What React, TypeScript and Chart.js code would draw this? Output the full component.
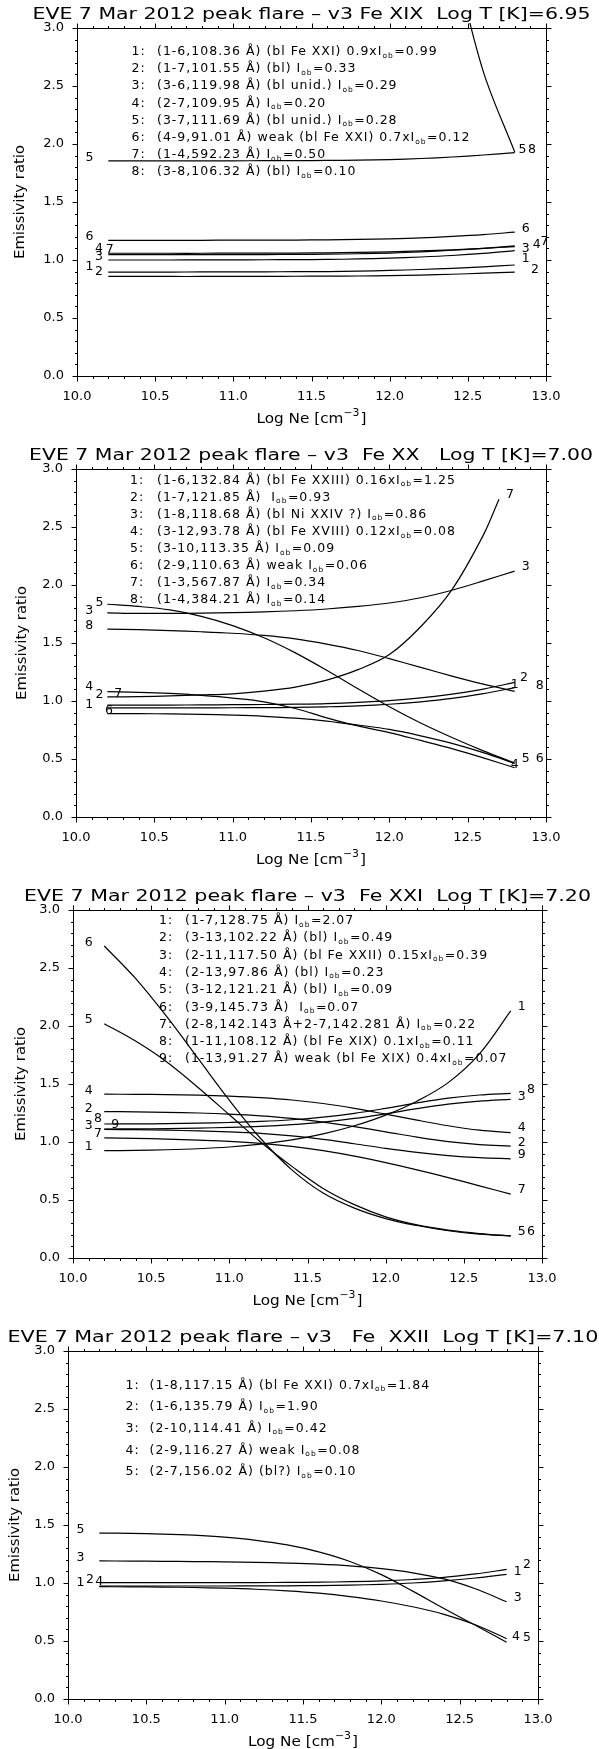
import React, { useEffect, useRef } from 'react';
import { Chart, registerables } from 'chart.js';

Chart.register(...registerables);

// ---------- shared axes ----------
const NE = [10.2, 10.4, 10.6, 10.8, 11.0, 11.2, 11.4, 11.6, 11.8, 12.0, 12.2, 12.4, 12.6, 12.8];
const NE_P2_S7 = [10.2, 10.4, 10.6, 10.8, 11.0, 11.2, 11.4, 11.6, 11.8, 12.0, 12.2, 12.4, 12.6, 12.7];
const X_TICKS = [10.0, 10.5, 11.0, 11.5, 12.0, 12.5, 13.0];
const Y_TICKS = [0.0, 0.5, 1.0, 1.5, 2.0, 2.5, 3.0];
const X_TITLE = 'Log Ne [cm';
const X_TITLE_SUP = '−3';
const Y_TITLE = 'Emissivity ratio';

// ---------- panel 1 : Fe XIX ----------
const P1_TITLE = 'EVE 7 Mar 2012 peak flare – v3 Fe XIX  Log T [K]=6.95';
const P1_S1 = [0.896, 0.896, 0.896, 0.897, 0.897, 0.898, 0.899, 0.900, 0.904, 0.910, 0.918, 0.928, 0.941, 0.957];
const P1_S2 = [0.858, 0.858, 0.858, 0.858, 0.859, 0.859, 0.860, 0.861, 0.862, 0.865, 0.870, 0.877, 0.886, 0.896];
const P1_S3 = [1.000, 1.000, 1.000, 1.001, 1.001, 1.002, 1.003, 1.005, 1.009, 1.016, 1.026, 1.039, 1.057, 1.080];
const P1_S4 = [1.058, 1.058, 1.058, 1.058, 1.059, 1.059, 1.060, 1.062, 1.065, 1.070, 1.078, 1.088, 1.101, 1.115];
const P1_S5 = [1.855, 1.855, 1.855, 1.855, 1.855, 1.856, 1.857, 1.858, 1.861, 1.866, 1.875, 1.888, 1.905, 1.925];
const P1_S6 = [1.170, 1.170, 1.170, 1.170, 1.171, 1.171, 1.172, 1.174, 1.177, 1.182, 1.190, 1.203, 1.219, 1.240];
const P1_S7 = [1.046, 1.046, 1.046, 1.046, 1.047, 1.047, 1.048, 1.050, 1.054, 1.060, 1.070, 1.084, 1.101, 1.122];
const P1_S8 = [5.60, 5.60, 5.59, 5.58, 5.56, 5.52, 5.45, 5.33, 5.14, 4.84, 4.37, 3.62, 2.62, 1.93];
const P1_LEGEND = [
  '(1-6,108.36 Å) (bl Fe XXI) 0.9xI_ob=0.99',
  '(1-7,101.55 Å) (bl) I_ob=0.33',
  '(3-6,119.98 Å) (bl unid.) I_ob=0.29',
  '(2-7,109.95 Å) I_ob=0.20',
  '(3-7,111.69 Å) (bl unid.) I_ob=0.28',
  '(4-9,91.01 Å) weak (bl Fe XXI) 0.7xI_ob=0.12',
  '(1-4,592.23 Å) I_ob=0.50',
  '(3-8,106.32 Å) (bl) I_ob=0.10',
];
const P1_LINE_LABELS: [string, number, number][] = [
  ['5', 10.08, 1.88], ['6', 10.08, 1.20], ['4', 10.14, 1.10], ['7', 10.21, 1.09],
  ['3', 10.14, 1.03], ['1', 10.08, 0.94], ['2', 10.14, 0.90],
  ['5', 12.85, 1.95], ['8', 12.91, 1.95], ['6', 12.87, 1.27], ['3', 12.87, 1.10],
  ['4', 12.94, 1.13], ['7', 12.99, 1.16], ['1', 12.87, 1.01], ['2', 12.93, 0.92],
];

// ---------- panel 2 : Fe XX ----------
const P2_TITLE = 'EVE 7 Mar 2012 peak flare – v3  Fe XX   Log T [K]=7.00';
const P2_S1 = [0.965, 0.965, 0.965, 0.966, 0.968, 0.970, 0.973, 0.978, 0.988, 1.003, 1.027, 1.060, 1.103, 1.160];
const P2_S2 = [0.940, 0.940, 0.940, 0.941, 0.942, 0.943, 0.945, 0.950, 0.958, 0.972, 0.993, 1.022, 1.063, 1.115];
const P2_S3 = [1.760, 1.755, 1.755, 1.757, 1.762, 1.768, 1.778, 1.793, 1.815, 1.845, 1.890, 1.955, 2.035, 2.120];
const P2_S4 = [1.080, 1.075, 1.065, 1.048, 1.025, 0.993, 0.935, 0.855, 0.785, 0.728, 0.660, 0.590, 0.510, 0.425];
const P2_S5 = [1.834, 1.815, 1.785, 1.730, 1.650, 1.545, 1.415, 1.265, 1.105, 0.950, 0.810, 0.685, 0.570, 0.465];
const P2_S6 = [0.892, 0.891, 0.889, 0.885, 0.878, 0.868, 0.852, 0.827, 0.793, 0.755, 0.700, 0.635, 0.555, 0.462];
const P2_S7 = [1.035, 1.038, 1.044, 1.052, 1.062, 1.085, 1.120, 1.180, 1.270, 1.400, 1.640, 1.960, 2.430, 2.740];
const P2_S8 = [1.620, 1.615, 1.607, 1.597, 1.584, 1.565, 1.535, 1.490, 1.435, 1.365, 1.290, 1.215, 1.145, 1.083];
const P2_LEGEND = [
  '(1-6,132.84 Å) (bl Fe XXIII) 0.16xI_ob=1.25',
  '(1-7,121.85 Å)  I_ob=0.93',
  '(1-8,118.68 Å) (bl Ni XXIV ?) I_ob=0.86',
  '(3-12,93.78 Å) (bl Fe XVIII) 0.12xI_ob=0.08',
  '(3-10,113.35 Å) I_ob=0.09',
  '(2-9,110.63 Å) weak I_ob=0.06',
  '(1-3,567.87 Å) I_ob=0.34',
  '(1-4,384.21 Å) I_ob=0.14',
];
const P2_LINE_LABELS: [string, number, number][] = [
  ['3', 10.085, 1.78], ['5', 10.15, 1.85], ['8', 10.085, 1.65], ['4', 10.085, 1.12],
  ['7', 10.27, 1.06], ['1', 10.085, 0.97], ['2', 10.15, 1.05], ['6', 10.21, 0.92],
  ['7', 12.77, 2.78], ['3', 12.87, 2.16], ['1', 12.80, 1.14], ['2', 12.86, 1.20],
  ['8', 12.96, 1.13], ['4', 12.80, 0.45], ['5', 12.87, 0.50], ['6', 12.96, 0.50],
];

// ---------- panel 3 : Fe XXI ----------
const P3_TITLE = 'EVE 7 Mar 2012 peak flare – v3  Fe XXI  Log T [K]=7.20';
const P3_S1 = [0.925, 0.928, 0.933, 0.942, 0.957, 0.982, 1.018, 1.070, 1.140, 1.232, 1.352, 1.512, 1.760, 2.130];
const P3_S2 = [1.262, 1.260, 1.256, 1.250, 1.240, 1.225, 1.203, 1.172, 1.132, 1.088, 1.042, 1.003, 0.978, 0.965];
const P3_S3 = [1.155, 1.156, 1.158, 1.162, 1.168, 1.177, 1.192, 1.215, 1.247, 1.290, 1.337, 1.378, 1.405, 1.420];
const P3_S4 = [1.412, 1.411, 1.409, 1.404, 1.395, 1.382, 1.362, 1.332, 1.290, 1.240, 1.188, 1.140, 1.102, 1.080];
const P3_S5 = [2.020, 1.870, 1.690, 1.470, 1.235, 1.000, 0.790, 0.600, 0.460, 0.355, 0.285, 0.240, 0.210, 0.190];
const P3_S6 = [2.690, 2.410, 2.080, 1.720, 1.360, 1.030, 0.760, 0.560, 0.430, 0.340, 0.280, 0.235, 0.205, 0.190];
const P3_S7 = [1.035, 1.032, 1.025, 1.016, 1.005, 0.988, 0.962, 0.925, 0.878, 0.822, 0.760, 0.693, 0.622, 0.550];
const P3_S8 = [1.112, 1.113, 1.116, 1.120, 1.126, 1.135, 1.150, 1.172, 1.203, 1.243, 1.287, 1.326, 1.352, 1.368];
const P3_S9 = [1.108, 1.106, 1.102, 1.096, 1.087, 1.074, 1.053, 1.023, 0.985, 0.945, 0.910, 0.883, 0.865, 0.855];
const P3_LEGEND = [
  '(1-7,128.75 Å) I_ob=2.07',
  '(3-13,102.22 Å) (bl) I_ob=0.49',
  '(2-11,117.50 Å) (bl Fe XXII) 0.15xI_ob=0.39',
  '(2-13,97.86 Å) (bl) I_ob=0.23',
  '(3-12,121.21 Å) (bl) I_ob=0.09',
  '(3-9,145.73 Å)  I_ob=0.07',
  '(2-8,142.143 Å+2-7,142.281 Å) I_ob=0.22',
  '(1-11,108.12 Å) (bl Fe XIX) 0.1xI_ob=0.11',
  '(1-13,91.27 Å) weak (bl Fe XIX) 0.4xI_ob=0.07',
];
const P3_LINE_LABELS: [string, number, number][] = [
  ['6', 10.10, 2.72], ['5', 10.10, 2.05], ['4', 10.10, 1.44], ['2', 10.10, 1.29],
  ['3', 10.10, 1.14], ['8', 10.16, 1.20], ['9', 10.27, 1.15], ['7', 10.16, 1.07], ['1', 10.10, 0.96],
  ['1', 12.87, 2.17], ['3', 12.87, 1.39], ['8', 12.93, 1.45], ['4', 12.87, 1.12],
  ['2', 12.87, 0.995], ['9', 12.87, 0.89], ['7', 12.87, 0.59], ['5', 12.87, 0.23], ['6', 12.93, 0.23],
];

// ---------- panel 4 : Fe XXII ----------
const P4_TITLE = 'EVE 7 Mar 2012 peak flare – v3   Fe  XXII  Log T [K]=7.10';
const P4_S1 = [1.003, 1.003, 1.003, 1.003, 1.003, 1.004, 1.005, 1.007, 1.011, 1.018, 1.030, 1.048, 1.078, 1.117];
const P4_S2 = [0.974, 0.974, 0.974, 0.974, 0.974, 0.975, 0.976, 0.978, 0.982, 0.989, 1.000, 1.018, 1.043, 1.075];
const P4_S3 = [1.190, 1.189, 1.187, 1.185, 1.182, 1.178, 1.172, 1.163, 1.148, 1.124, 1.088, 1.035, 0.950, 0.838];
const P4_S4 = [0.968, 0.967, 0.965, 0.961, 0.955, 0.946, 0.932, 0.912, 0.883, 0.845, 0.795, 0.730, 0.640, 0.520];
const P4_S5 = [1.430, 1.428, 1.422, 1.412, 1.395, 1.368, 1.328, 1.268, 1.185, 1.072, 0.930, 0.780, 0.635, 0.490];
const P4_LEGEND = [
  '(1-8,117.15 Å) (bl Fe XXI) 0.7xI_ob=1.84',
  '(1-6,135.79 Å) I_ob=1.90',
  '(2-10,114.41 Å) I_ob=0.42',
  '(2-9,116.27 Å) weak I_ob=0.08',
  '(2-7,156.02 Å) (bl?) I_ob=0.10',
];
const P4_LINE_LABELS: [string, number, number][] = [
  ['5', 10.08, 1.46], ['3', 10.08, 1.22], ['1', 10.08, 1.00], ['2', 10.14, 1.03], ['4', 10.20, 1.01],
  ['1', 12.87, 1.10], ['2', 12.93, 1.16], ['3', 12.87, 0.87], ['4', 12.86, 0.535], ['5', 12.93, 0.525],
];

// ---------- layout (pixels) ----------
const FONT = '"DejaVu Sans", sans-serif';
const PLOT_TOP = 28;
const PLOT_BOTTOM = 376;

type SeriesDef = { x: number[]; y: number[]; clipTop?: number };
type PanelCfg = {
  height: number;
  left: number;
  right: number;
  title: string;
  titleWidth: number;
  yTitleX: number;
  series: SeriesDef[];
  legend: string[];
  legNumX: number;
  legTextX: number;
  legY0: number;
  legDY: number;
  labels: [string, number, number][];
};

const PANELS: PanelCfg[] = [
  {
    height: 441, left: 77, right: 546, title: P1_TITLE, titleWidth: 558, yTitleX: 20,
    series: [
      { x: NE, y: P1_S1 }, { x: NE, y: P1_S2 }, { x: NE, y: P1_S3 }, { x: NE, y: P1_S4 },
      { x: NE, y: P1_S5 }, { x: NE, y: P1_S6 }, { x: NE, y: P1_S7 }, { x: NE, y: P1_S8, clipTop: 5 },
    ],
    legend: P1_LEGEND, legNumX: 131.5, legTextX: 157, legY0: 50.5, legDY: 17.2, labels: P1_LINE_LABELS,
  },
  {
    height: 441, left: 76, right: 546, title: P2_TITLE, titleWidth: 564, yTitleX: 22,
    series: [
      { x: NE, y: P2_S1 }, { x: NE, y: P2_S2 }, { x: NE, y: P2_S3 }, { x: NE, y: P2_S4 },
      { x: NE, y: P2_S5 }, { x: NE, y: P2_S6 }, { x: NE_P2_S7, y: P2_S7 }, { x: NE, y: P2_S8 },
    ],
    legend: P2_LEGEND, legNumX: 130, legTextX: 157, legY0: 38.2, legDY: 17.1, labels: P2_LINE_LABELS,
  },
  {
    height: 441, left: 73, right: 542, title: P3_TITLE, titleWidth: 567, yTitleX: 21,
    series: [
      { x: NE, y: P3_S1 }, { x: NE, y: P3_S2 }, { x: NE, y: P3_S3 }, { x: NE, y: P3_S4 },
      { x: NE, y: P3_S5 }, { x: NE, y: P3_S6 }, { x: NE, y: P3_S7 }, { x: NE, y: P3_S8 }, { x: NE, y: P3_S9 },
    ],
    legend: P3_LEGEND, legNumX: 159, legTextX: 185, legY0: 37.5, legDY: 17.3, labels: P3_LINE_LABELS,
  },
  {
    height: 426, left: 68, right: 538, title: P4_TITLE, titleWidth: 591, yTitleX: 15,
    series: [
      { x: NE, y: P4_S1 }, { x: NE, y: P4_S2 }, { x: NE, y: P4_S3 }, { x: NE, y: P4_S4 }, { x: NE, y: P4_S5 },
    ],
    legend: P4_LEGEND, legNumX: 125.5, legTextX: 149.5, legY0: 61, legDY: 21.7, labels: P4_LINE_LABELS,
  },
];

const LEG_SIZE = 12.5;

function drawRich(ctx: CanvasRenderingContext2D, text: string, x: number, baseline: number, size: number) {
  const parts = text.split('_ob');
  let cx = x;
  parts.forEach((p, i) => {
    ctx.font = `${size}px ${FONT}`;
    ctx.fillText(p, cx, baseline);
    cx += ctx.measureText(p).width;
    if (i < parts.length - 1) {
      ctx.font = `${size * 0.6}px ${FONT}`;
      ctx.fillText('ob', cx, baseline + 2.5);
      cx += ctx.measureText('ob').width + 0.5;
    }
  });
}

function makeDecor(cfg: PanelCfg) {
  return {
    id: 'idlDecor',
    afterDraw(chart: any) {
      const ctx: CanvasRenderingContext2D = chart.ctx;
      const xs = chart.scales.x;
      const ys = chart.scales.y;
      const { left, right, top, bottom } = chart.chartArea;
      const L = Math.round(left) + 0.5;
      const R = Math.round(right) + 0.5;
      const T = Math.round(top) + 0.5;
      const B = Math.round(bottom) + 0.5;
      ctx.save();
      ctx.strokeStyle = '#000';
      ctx.fillStyle = '#000';
      ctx.lineWidth = 1;

      // frame
      ctx.beginPath();
      ctx.moveTo(L, T); ctx.lineTo(R, T); ctx.lineTo(R, B); ctx.lineTo(L, B); ctx.closePath();
      ctx.stroke();

      const MAJ = 5;
      const MIN = 2.5;
      ctx.beginPath();
      const xTick = (v: number, len: number) => {
        const px = Math.round(xs.getPixelForValue(v)) + 0.5;
        ctx.moveTo(px, B); ctx.lineTo(px, B + len);
        ctx.moveTo(px, T); ctx.lineTo(px, T - len);
      };
      const yTick = (v: number, len: number) => {
        const py = Math.round(ys.getPixelForValue(v)) + 0.5;
        ctx.moveTo(L, py); ctx.lineTo(L - len, py);
        ctx.moveTo(R, py); ctx.lineTo(R + len, py);
      };
      X_TICKS.forEach((v, i) => {
        xTick(v, MAJ);
        if (i < X_TICKS.length - 1) {
          for (let k = 1; k < 5; k++) xTick(v + ((X_TICKS[i + 1] - v) * k) / 5, MIN);
        }
      });
      Y_TICKS.forEach((v, i) => {
        yTick(v, MAJ);
        if (i < Y_TICKS.length - 1) {
          for (let k = 1; k < 5; k++) yTick(v + ((Y_TICKS[i + 1] - v) * k) / 5, MIN);
        }
      });
      ctx.stroke();

      // tick labels
      ctx.font = `13px ${FONT}`;
      ctx.textAlign = 'right';
      ctx.textBaseline = 'middle';
      Y_TICKS.forEach((v) => ctx.fillText(v.toFixed(1), left - 13, ys.getPixelForValue(v)));
      ctx.textAlign = 'center';
      X_TICKS.forEach((v) => ctx.fillText(v.toFixed(1), xs.getPixelForValue(v), bottom + 21));

      // x title with superscript
      {
        ctx.textBaseline = 'alphabetic';
        ctx.textAlign = 'left';
        ctx.font = `14px ${FONT}`;
        const w1 = ctx.measureText(X_TITLE).width;
        ctx.font = `10px ${FONT}`;
        const w2 = ctx.measureText(X_TITLE_SUP).width;
        ctx.font = `14px ${FONT}`;
        const w3 = ctx.measureText(']').width;
        const total = w1 + w2 + w3 + 1;
        const target = 110;
        const sx = target / total;
        ctx.save();
        ctx.translate((left + right) / 2 - target / 2, bottom + 47);
        ctx.scale(sx, 1);
        ctx.font = `14px ${FONT}`;
        ctx.fillText(X_TITLE, 0, 0);
        ctx.font = `10px ${FONT}`;
        ctx.fillText(X_TITLE_SUP, w1, -7);
        ctx.font = `14px ${FONT}`;
        ctx.fillText(']', w1 + w2 + 1, 0);
        ctx.restore();
      }

      // y title
      {
        ctx.save();
        ctx.font = `13.5px ${FONT}`;
        const w = ctx.measureText(Y_TITLE).width;
        ctx.translate(cfg.yTitleX, (top + bottom) / 2);
        ctx.rotate(-Math.PI / 2);
        ctx.scale(114 / w, 1);
        ctx.textAlign = 'center';
        ctx.textBaseline = 'middle';
        ctx.fillText(Y_TITLE, 0, 0);
        ctx.restore();
      }

      // main title
      {
        ctx.save();
        ctx.font = `16.5px ${FONT}`;
        const w = ctx.measureText(cfg.title).width;
        ctx.translate((left + right) / 2, 18.5);
        ctx.scale(cfg.titleWidth / w, 1);
        ctx.textAlign = 'center';
        ctx.textBaseline = 'alphabetic';
        ctx.fillText(cfg.title, 0, 0);
        ctx.restore();
      }

      // legend
      {
        ctx.save();
        ctx.textAlign = 'left';
        ctx.textBaseline = 'alphabetic';
        (ctx as any).letterSpacing = '1px';
        cfg.legend.forEach((t, i) => {
          const base = cfg.legY0 + i * cfg.legDY + 4.5;
          ctx.font = `${LEG_SIZE}px ${FONT}`;
          ctx.fillText(`${i + 1}:`, cfg.legNumX, base);
          drawRich(ctx, t, cfg.legTextX, base, LEG_SIZE);
        });
        ctx.restore();
      }

      // line labels (clipped at right axis)
      {
        ctx.save();
        ctx.beginPath();
        ctx.rect(0, 0, Math.round(right) + 1, chart.height);
        ctx.clip();
        ctx.font = `12.5px ${FONT}`;
        ctx.textAlign = 'center';
        ctx.textBaseline = 'middle';
        cfg.labels.forEach(([t, x, y]) => ctx.fillText(t, xs.getPixelForValue(x), ys.getPixelForValue(y)));
        ctx.restore();
      }

      ctx.restore();
    },
  };
}

function Panel({ cfg }: { cfg: PanelCfg }) {
  const ref = useRef<HTMLCanvasElement>(null);
  useEffect(() => {
    const canvas = ref.current!;
    const chart = new Chart(canvas, {
      type: 'line',
      data: {
        datasets: cfg.series.map((s) => ({
          data: s.x.map((x, i) => ({ x, y: s.y[i] })),
          borderColor: '#000',
          borderWidth: 1.2,
          pointRadius: 0,
          fill: false,
          tension: 0.35,
          clip: s.clipTop !== undefined ? { left: 0, top: s.clipTop, right: 0, bottom: 0 } : 0.6,
        })),
      },
      options: {
        responsive: false,
        animation: false,
        devicePixelRatio: 1,
        events: [],
        layout: {
          padding: {
            left: cfg.left,
            right: 599 - cfg.right,
            top: PLOT_TOP,
            bottom: cfg.height - PLOT_BOTTOM,
          },
        },
        plugins: { legend: { display: false }, tooltip: { enabled: false }, title: { display: false } },
        scales: {
          x: { type: 'linear', min: 10, max: 13, display: false },
          y: { type: 'linear', min: 0, max: 3, display: false },
        },
      },
      plugins: [makeDecor(cfg)],
    } as any);
    return () => chart.destroy();
  }, [cfg]);
  return (
    <canvas
      ref={ref}
      width={599}
      height={cfg.height}
      style={{ display: 'block', width: 599, height: cfg.height }}
    />
  );
}

export default function App() {
  useEffect(() => {
    document.body.style.margin = '0';
    document.body.style.background = '#fff';
  }, []);
  return (
    <div style={{ width: 599, background: '#fff' }}>
      {PANELS.map((p, i) => (
        <Panel key={i} cfg={p} />
      ))}
    </div>
  );
}
